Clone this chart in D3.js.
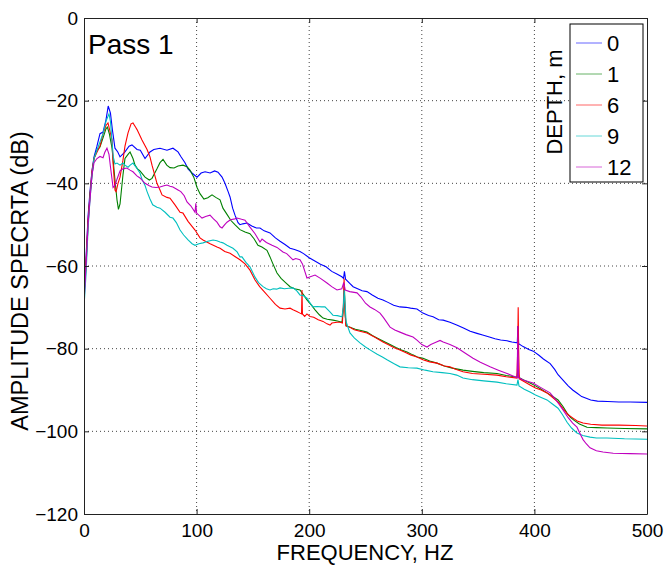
<!DOCTYPE html>
<html lang="en">
<head>
<meta charset="utf-8">
<title>Pass 1 amplitude spectra</title>
<script src="https://cdn.jsdelivr.net/npm/d3@7/dist/d3.min.js"></script>
<style>
body{margin:0;background:#fff;}
svg{display:block;font-family:"Liberation Sans",Arial,Helvetica,sans-serif;}
</style>
</head>
<body>
<div id="chart"></div>
<script>
// tick values and legend
var freqTicks = [0, 100, 200, 300, 400, 500];
var dbTicks = [0, -20, -40, -60, -80, -100, -120];
var depths = ["0", "1", "6", "9", "12"];
var colors = ["#0000ff", "#008000", "#ff0000", "#00bfbf", "#bf00bf"];

// [frequency Hz, amplitude dB]
var depth0 = [[0,-68],[1.8,-58],[3.6,-48],[5.3,-42],[7.1,-37],[8.9,-33.6],[11.5,-31],[14.2,-28],[16.9,-27.6],[19.5,-24.7],[21.5,-21.3],[23.5,-23],[25.2,-27],[27.5,-31.5],[30,-32.4],[32,-33.6],[36.4,-32.4],[40,-31],[42.6,-30.7],[47.1,-31.8],[50,-32],[54.2,-34],[58.6,-32.4],[62,-31.8],[67.5,-31.5],[73.7,-32],[79,-31.5],[83.5,-32.4],[86,-33.5],[89.7,-35],[92.4,-36.5],[95.9,-37.5],[100.4,-38.5],[104,-37.5],[107.5,-37.2],[112,-37.5],[116,-37],[119,-37.3],[122.6,-38.5],[125.2,-40],[128,-42],[129.7,-43.3],[132,-46],[134.1,-47.7],[136.8,-49.5],[138.5,-50],[141,-49.8],[144.8,-49.6],[149,-50.3],[153,-50.8],[156.3,-50.8],[160,-51.5],[165.2,-52],[170,-53.2],[174.1,-54],[178.5,-54.8],[183,-55.7],[187,-56],[191.8,-56.5],[195,-57],[200,-58],[205,-58.8],[210,-59.6],[215,-60.2],[220,-61.3],[225,-62],[229,-62.6],[230.5,-63],[231.3,-61.3],[232.3,-63.2],[236,-64.2],[239,-65],[243,-65.5],[247,-66],[251.3,-66.2],[256,-67],[261,-67.8],[265.5,-68.2],[270,-68.8],[275,-69.5],[280.6,-69.9],[286,-70],[290,-70.2],[295.7,-70.4],[301,-71.4],[306,-72],[310,-72.3],[315,-73],[319,-73.1],[325,-73.6],[331,-74.3],[337,-75],[343,-75.8],[349,-76.3],[354,-76.7],[360,-77.2],[365,-77.6],[370,-77.9],[375.7,-78.1],[380,-78.4],[384.8,-78.6],[385.4,-74.5],[386,-78.8],[390,-79.5],[395,-80.2],[399,-80.6],[404,-81.6],[408,-82.5],[414,-83.6],[418,-85],[421,-86.3],[426,-87.8],[430,-89],[434,-90],[438,-90.8],[442,-91.6],[446,-92],[450,-92.4],[456,-92.7],[465,-92.8],[475,-92.9],[485,-92.9],[500,-93]];

var depth1 = [[0,-67],[1.8,-60],[3.6,-50],[5.3,-43],[7.1,-38],[8.9,-34],[11.5,-32],[14.2,-31.2],[16.9,-29],[19.5,-26.8],[20.8,-26.4],[22.5,-28],[24.9,-31.5],[27.5,-39.2],[29.3,-44],[30.6,-46.3],[32,-45],[34.6,-38],[36.4,-34],[39.1,-33],[40.9,-32.4],[43.5,-34],[45.3,-35.6],[47.5,-36.5],[49.7,-37],[54.2,-38.5],[58,-39.2],[60.4,-38.8],[64.8,-36.5],[67.5,-35],[70.2,-34.2],[73.5,-35.6],[76.4,-36.2],[80,-36.3],[83.5,-35.8],[87.9,-35.6],[91.5,-36],[94.1,-36.8],[97.5,-38.5],[100.4,-41],[103,-42.5],[106.5,-43.8],[110,-43.5],[113.7,-42.8],[117,-43.4],[120.8,-44],[123.4,-46],[127,-47.5],[130.5,-49],[134,-50],[138.5,-51.2],[143,-51.8],[147.4,-52.2],[151,-53.4],[154.5,-55],[158,-55.4],[162.5,-56.2],[165.2,-57.8],[167.5,-59.3],[171.4,-61.7],[175,-63],[179,-64],[183,-65],[187,-65.5],[191.8,-65.8],[195,-67],[198,-68.2],[202,-69.5],[205.2,-70.6],[209,-71.8],[212.3,-72.6],[216,-72.9],[221.1,-73.1],[225,-73.3],[229.1,-73.6],[230.5,-70],[231.2,-64.5],[232,-72],[233,-74.5],[236.2,-74.8],[241,-75.3],[246,-75.6],[251.3,-76],[256,-76.8],[260.2,-77.4],[266,-78.2],[271.8,-79],[277,-79.7],[282,-80.3],[286.9,-80.8],[292,-81.5],[296,-82],[301.1,-82.3],[307,-83],[313.5,-83.5],[320,-84.2],[327,-84.7],[336.6,-85.2],[345,-85.5],[355,-85.8],[366.8,-86],[375,-86.5],[384.5,-86.9],[385.4,-85],[386.3,-87],[390,-87.5],[396.1,-88.3],[401,-89],[406,-89.8],[411.2,-90.7],[416,-91.5],[421,-92.4],[425.4,-94],[429,-95.6],[432,-96.6],[435,-97.3],[440,-98.2],[446.7,-99],[455,-99.1],[464.5,-99.2],[480,-99.3],[500,-99.4]];

var depth6 = [[0,-67],[1.8,-59],[3.6,-49],[5.3,-43],[7.1,-37],[8.9,-34],[11.5,-32.5],[14.2,-31],[16.9,-28],[19.5,-26],[21.3,-25.4],[24.9,-29.5],[25.8,-35],[27.5,-41.6],[28.5,-42],[30.2,-40],[32,-38.5],[34.6,-34.4],[36.4,-31],[39.1,-27.8],[41.8,-25.6],[43.5,-25.4],[46,-26.5],[47.1,-27],[51.5,-29.5],[56,-31.8],[58.6,-33.6],[60.4,-35.6],[64.8,-40],[67.5,-41.6],[69.3,-42.8],[73.7,-43.4],[76.4,-43.6],[80.8,-45.2],[85.3,-47],[87.9,-47.2],[92.4,-49.2],[98.6,-51.3],[103,-53.2],[105.7,-53.7],[112,-54.6],[118.1,-55.4],[120.8,-55.7],[125,-56.5],[129.7,-56.9],[134,-57.7],[138.5,-58.5],[143,-59.5],[147.4,-61],[151.9,-63.4],[156,-65],[160,-66.2],[165.2,-67.8],[170,-69.3],[174.1,-70.2],[178.5,-70.4],[183,-70.2],[185.6,-70.6],[189,-71],[191.8,-71.4],[193.2,-71.6],[193.6,-65.8],[194,-71.6],[196,-72.2],[198,-71.6],[200.7,-72.2],[204,-72.4],[208,-73],[212.3,-73.4],[215.8,-74],[218.5,-74.3],[220.2,-73.8],[224.7,-73.6],[227.4,-73.6],[229.5,-73.8],[230.4,-69],[231,-63],[231.6,-70],[232.5,-74.5],[236.2,-74.8],[240,-75.4],[245,-75.8],[251.3,-76.2],[258,-77.2],[265.5,-78.4],[270,-79],[275,-79.7],[280.6,-80.3],[286,-81],[290,-81.5],[295.7,-82],[301,-82.7],[307,-83.2],[313.5,-83.5],[320,-84.2],[325,-84.4],[330,-85],[336.6,-85.6],[345,-86],[355,-86.2],[366.8,-86.4],[375,-86.8],[384.5,-87.1],[385.2,-80],[385.6,-70],[386,-80],[386.6,-87.3],[390,-87.8],[396.1,-88.8],[401,-89.5],[406,-90],[411.2,-90.7],[416,-91.8],[421,-92.9],[425.4,-94.5],[430,-96],[434.3,-96.8],[438,-97.5],[443.2,-98],[450,-98.3],[460,-98.5],[475,-98.5],[490,-98.6],[500,-98.7]];

var depth9 = [[0,-70],[1.8,-62],[3.6,-51],[5.3,-44],[7.1,-38],[8.9,-34],[11.5,-32],[14.2,-30],[16.9,-28],[19.5,-25],[22.2,-23.2],[23.5,-25],[24.9,-30],[26,-33.6],[27.5,-35.3],[29.3,-35.1],[32,-35.6],[34.6,-35.1],[36.4,-35.6],[39.1,-36.1],[41,-35.6],[43.5,-35.1],[46,-36],[49.7,-37.5],[51.5,-39],[54.2,-40.5],[56,-42],[58.6,-43.8],[61,-45.2],[64.8,-45.8],[67.5,-46],[72,-47],[76.4,-48.2],[79,-48.4],[82,-49.5],[85.3,-51.3],[88.5,-52.5],[92.4,-53.7],[96,-54.6],[98.6,-55],[102,-54.6],[105.7,-54.4],[110,-54],[114.6,-53.7],[118,-53.9],[120.8,-54.2],[123.4,-54.4],[127,-55],[132.3,-55.7],[136,-56.6],[138.5,-57.8],[140.3,-57.8],[144,-59.2],[147.4,-60.2],[151.9,-62.7],[155,-64],[159,-65],[162,-65.5],[165.2,-65.8],[168,-65.5],[171,-65.6],[174.1,-65.3],[178,-65.5],[182,-65.4],[185.6,-65.3],[189,-66],[191.8,-67],[195,-67.2],[198,-67.8],[201,-69],[203.4,-69.9],[207,-69.8],[211,-69.9],[214,-69.9],[218,-71],[221.1,-71.9],[225,-72],[229.1,-72.3],[230.3,-70],[231.1,-65.8],[231.8,-69],[232.8,-73.5],[236.2,-76.2],[240,-77.4],[245.1,-78.6],[250,-79.6],[254,-80.3],[260,-81.3],[265,-82],[269.1,-82.7],[275,-83.6],[280.6,-84.4],[288,-84.6],[295.7,-84.7],[303,-85.2],[309.9,-85.6],[318,-85.8],[325,-86],[331,-86.4],[336.6,-87.1],[345,-87.5],[355,-87.8],[366.8,-88.1],[375,-88.5],[384.5,-88.8],[385.4,-87.5],[386.3,-89],[391,-89.8],[396.1,-90.5],[401,-91.2],[406,-91.8],[411.2,-92.4],[416,-93.4],[421,-94.4],[425,-96],[429,-97.8],[433,-99.2],[437.8,-100.4],[443,-101],[449.4,-101.4],[455,-101.6],[464.5,-101.6],[480,-101.8],[500,-101.9]];

var depth12 = [[0,-120],[0.2,-68],[1.8,-60],[3.6,-50],[5.3,-44],[7.1,-38],[8.9,-35],[11.5,-34],[14.2,-33.5],[16.9,-33.8],[18.5,-32.5],[20.4,-31.5],[22.2,-33],[23.5,-36],[24.9,-39],[25.8,-41],[27.5,-40.5],[29.3,-39],[32,-37],[34.6,-36.5],[38,-36.3],[40.9,-36.8],[43.5,-37.2],[47,-38.2],[49.7,-38.7],[54.2,-40],[58,-40.6],[60.4,-40.9],[64,-41],[67.5,-40.9],[71,-40.6],[73.7,-40.4],[76.4,-40.7],[79,-40.9],[83.5,-41.6],[86,-42],[89,-43],[91.5,-44.5],[95,-45.5],[98.6,-47],[99.3,-44.8],[100,-47.2],[104.8,-48.4],[108,-48],[111.9,-47.7],[115,-48.6],[118.1,-49.4],[120.8,-50.5],[122.6,-50.8],[125,-50],[127,-49.4],[130,-48.8],[134,-48.6],[135.9,-48.4],[140,-48.7],[143,-48.9],[147.4,-50.6],[151.9,-52.2],[156.3,-54.2],[158.1,-53.5],[162,-54.3],[167,-55],[171.4,-55.5],[176.7,-56.6],[180,-57],[185.6,-58.5],[188,-58.2],[191.8,-58.5],[194,-59.5],[198,-62.9],[201,-62.6],[205.2,-62.2],[210,-63],[215.8,-64.1],[220,-65],[224.7,-65.8],[229,-65.5],[230.7,-64],[232,-65.8],[236,-66.2],[242.5,-66.5],[246,-67.5],[250,-69],[254,-69.9],[258,-70.5],[262.9,-71.4],[266,-72.5],[271.8,-74.8],[276,-75.5],[280.6,-76],[286,-76.6],[292.2,-77.2],[296,-78],[300,-79],[304.6,-79.6],[308,-79],[312,-78.5],[316.2,-78],[319,-78.4],[325,-79],[331.3,-79.8],[338,-81],[345.5,-82.3],[352,-83.3],[360.6,-84.4],[368,-85.2],[375.7,-86],[381,-86.6],[384.7,-87],[385.3,-74.5],[385.9,-87],[390,-87.6],[398.8,-88.3],[405,-89.3],[413.9,-90.7],[418,-92],[422,-93.5],[425.4,-94.8],[430,-96.7],[434,-98],[437.8,-99],[441,-100.8],[443.2,-102],[446,-103],[449.4,-104],[455,-104.7],[460.9,-105],[470,-105.3],[485,-105.4],[500,-105.5]];

var series = [depth0, depth1, depth6, depth9, depth12];

var width = 665,
    height = 573,
    margin = {top: 18, right: 18, bottom: 59, left: 84};
var w = width - margin.left - margin.right,
    h = height - margin.top - margin.bottom;

var svg = d3.select("#chart").append("svg")
    .attr("width", width)
    .attr("height", height);

var g = svg.append("g")
    .attr("transform", "translate(" + margin.left + "," + margin.top + ")");

var x = d3.scaleLinear().domain([0, 500]).range([0, w]);
var y = d3.scaleLinear().domain([-120, 0]).range([h, 0]);

// dotted grid
g.append("g").selectAll("line").data(freqTicks.slice(1, -1))
  .enter().append("line")
    .attr("x1", function(d){ return x(d); })
    .attr("x2", function(d){ return x(d); })
    .attr("y1", 0).attr("y2", h)
    .attr("stroke", "#444").attr("stroke-dasharray", "1,3");
g.append("g").selectAll("line").data(dbTicks.slice(1, -1))
  .enter().append("line")
    .attr("y1", function(d){ return y(d); })
    .attr("y2", function(d){ return y(d); })
    .attr("x1", 0).attr("x2", w)
    .attr("stroke", "#444").attr("stroke-dasharray", "1,3");

g.append("clipPath").attr("id", "clip")
  .append("rect").attr("width", w).attr("height", h);

var line = d3.line()
    .x(function(d){ return x(d[0]); })
    .y(function(d){ return y(d[1]); });

g.append("g").attr("clip-path", "url(#clip)")
  .selectAll("path").data(series)
  .enter().append("path")
    .attr("d", line)
    .attr("fill", "none")
    .attr("stroke", function(d, i){ return colors[i]; })
    .attr("stroke-width", 1.1);

// axes, ticks pointing inward on all four sides
var xAxis = g.append("g").attr("transform", "translate(0," + h + ")")
    .call(d3.axisBottom(x).tickValues(freqTicks).tickSizeInner(-5).tickSizeOuter(0).tickPadding(10));
var yAxis = g.append("g")
    .call(d3.axisLeft(y).tickValues(dbTicks).tickSizeInner(-5).tickSizeOuter(0).tickPadding(6));
g.append("g")
    .call(d3.axisTop(x).tickValues(freqTicks).tickSizeInner(-5).tickSizeOuter(0).tickFormat(""));
g.append("g").attr("transform", "translate(" + w + ",0)")
    .call(d3.axisRight(y).tickValues(dbTicks).tickSizeInner(-5).tickSizeOuter(0).tickFormat(""));

g.selectAll(".domain").attr("stroke", "#222");
g.selectAll(".tick line").attr("stroke", "#222");
g.selectAll(".tick text").attr("fill", "#000")
    .style("font-size", "19px")
    .style("font-family", "'Liberation Sans', Arial, sans-serif");

// titles
svg.append("text")
    .attr("x", 365).attr("y", 560)
    .attr("text-anchor", "middle")
    .style("font-size", "22px")
    .text("FREQUENCY, HZ");

svg.append("text")
    .attr("transform", "translate(28,281) rotate(-90)")
    .attr("text-anchor", "middle")
    .style("font-size", "23.5px")
    .text("AMPLITUDE SPECRTA (dB)");

svg.append("text")
    .attr("x", 88).attr("y", 54)
    .style("font-size", "28px")
    .text("Pass 1");

// legend
var legend = svg.append("g").attr("transform", "translate(570,24)");
legend.append("rect")
    .attr("width", 73).attr("height", 158)
    .attr("fill", "#fff").attr("stroke", "#000");
var rows = legend.selectAll("g.row").data(depths)
  .enter().append("g").attr("class", "row")
    .attr("transform", function(d, i){ return "translate(0," + (19 + i * 31) + ")"; });
rows.append("line")
    .attr("x1", 6).attr("x2", 32)
    .attr("stroke", function(d, i){ return colors[i]; })
    .attr("stroke-opacity", 0.6);
rows.append("text")
    .attr("x", 37).attr("dy", "0.36em")
    .style("font-size", "22px")
    .text(function(d){ return d; });

svg.append("text")
    .attr("transform", "translate(562,102) rotate(-90)")
    .attr("text-anchor", "middle")
    .style("font-size", "22px")
    .text("DEPTH, m");
</script>
</body>
</html>
